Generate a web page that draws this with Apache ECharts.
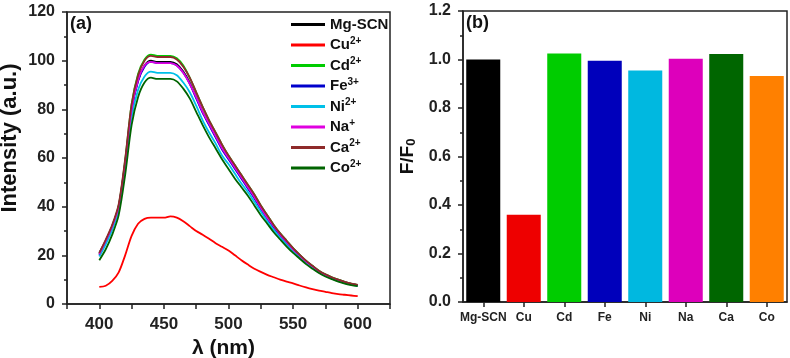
<!DOCTYPE html>
<html lang="en">
<head>
  <meta charset="UTF-8">
  <script type="text/javascript" src="https://cdn.jsdelivr.net/npm/echarts@6/dist/echarts.min.js"></script>
  <title>Fluorescence response</title>
  <style type="text/css">
    * { margin: 0; padding: 0; }
    html, body { width: 100%; height: 100%; background-color: #fff; }
    #chart { width: 790px; height: 358px; }
  </style>
</head>
<body>
<div id="chart"></div>
<script type="text/javascript">
  // wavelengths, 400 - 600 nm every 5 nm
  var wavelengths = [400, 405, 410, 415, 420, 425, 430, 435, 440, 445, 450, 455, 460, 465, 470, 475, 480, 485, 490, 495,
    500, 505, 510, 515, 520, 525, 530, 535, 540, 545, 550, 555, 560, 565, 570, 575, 580, 585, 590, 595, 600]

  var mgScn = [21, 26, 32, 40, 58, 80, 92, 98, 100, 99.5, 99.5, 99.5, 98.5, 95.5, 91, 85, 79, 74, 69, 64,
    60, 56, 52, 48, 44, 39.5, 35.5, 32, 28.5, 25.5, 22.5, 20, 17.5, 15.5, 13.5, 12, 10.8, 9.8, 9, 8.3, 7.8]
  var cu = [7, 7.5, 9.5, 13, 20, 28, 33, 35, 35.5, 35.5, 35.5, 36, 35.5, 34, 32, 30, 28.5, 26.8, 25, 23.5,
    22, 20, 18, 16.2, 14.5, 13.2, 12, 11, 10, 9.2, 8.5, 7.6, 6.8, 6.1, 5.5, 5, 4.5, 4.1, 3.8, 3.5, 3.2]
  var cd = [20.5, 25.5, 32, 40.5, 59, 82, 94.5, 100.5, 102.5, 102, 102, 102, 101, 98, 93, 87, 81, 75.5, 70.5, 65.5,
    61, 57, 53, 49, 45, 40.5, 36.5, 32.5, 29, 26, 23, 20.3, 17.8, 15.7, 13.7, 12.2, 11, 10, 9.1, 8.4, 7.9]
  var fe = [20, 25.5, 31.5, 39.5, 57.5, 79.5, 91.5, 97.5, 99.5, 99, 99, 99, 98, 95, 90.5, 84.5, 78.5, 73.5, 68.5, 63.5,
    59.5, 55.5, 51.5, 47.5, 43.5, 39, 35, 31.5, 28, 25, 22, 19.6, 17.2, 15.2, 13.3, 11.8, 10.6, 9.6, 8.8, 8.1, 7.6]
  var ni = [19.5, 24.5, 30.5, 38.5, 55.5, 76.5, 88, 93.5, 95.5, 95, 95, 95, 94, 91, 87, 81.5, 75.5, 70.5, 66, 61,
    57.5, 53.5, 49.5, 46, 42, 38, 34, 30.5, 27.3, 24.4, 21.6, 19.2, 16.8, 14.9, 13, 11.6, 10.4, 9.4, 8.6, 8, 7.5]
  var na = [20.5, 26, 32, 40, 58, 80, 92, 98, 99.5, 99, 99, 99, 98, 95, 90.5, 85, 79, 74, 69, 64,
    60, 56, 52, 48, 44, 39.5, 35.5, 32, 28.5, 25.5, 22.5, 20, 17.5, 15.5, 13.5, 12, 10.8, 9.8, 9, 8.3, 7.8]
  var ca = [21, 26.5, 32.5, 41, 59.5, 82, 94, 100, 102, 101.5, 101.5, 101.5, 100.5, 97.5, 93, 87, 81, 75.5, 70.5, 65.5,
    61, 57, 53, 49, 45, 40.5, 36.5, 32.5, 29, 26, 23, 20.3, 17.8, 15.7, 13.7, 12.2, 11, 10, 9.1, 8.4, 7.9]
  var co = [18, 22.5, 28.5, 36.5, 53, 73.5, 85, 91, 93, 92.5, 92.5, 92.5, 91.5, 88.5, 84.5, 79, 73.5, 68.5, 64, 59.5,
    55.5, 51.5, 48, 44.5, 40.5, 36.5, 33, 29.5, 26.5, 23.6, 21, 18.7, 16.4, 14.5, 12.7, 11.3, 10.2, 9.2, 8.4, 7.8, 7.3]

  // panel (b)
  var ions = ['Mg-SCN', 'Cu', 'Cd', 'Fe', 'Ni', 'Na', 'Ca', 'Co']
  var ratios = [1.0, 0.36, 1.025, 0.995, 0.955, 1.003, 1.023, 0.932]

  var FONT = '"Liberation Sans", Arial, sans-serif'
  var lineColors = ['#000000', '#ff0000', '#00cc00', '#0000cc', '#00c0e8', '#e000e0', '#8e2a2a', '#006400']
  var barColors = ['#000000', '#ee0000', '#00cc00', '#0000bb', '#00b8e0', '#dd00bb', '#006600', '#ff8000']

  var lineNames = ['Mg-SCN', 'Cu2+', 'Cd2+', 'Fe3+', 'Ni2+', 'Na+', 'Ca2+', 'Co2+']
  var lineData = [mgScn, cu, cd, fe, ni, na, ca, co]

  function pairs(ys) {
    return ys.map(function (y, i) { return [wavelengths[i], y] })
  }

  var series = lineNames.map(function (name, i) {
    return {
      name: name,
      type: 'line',
      xAxisIndex: 0,
      yAxisIndex: 0,
      showSymbol: false,
      smooth: 0.3,
      lineStyle: { color: lineColors[i], width: 1.8 },
      itemStyle: { color: lineColors[i] },
      data: pairs(lineData[i])
    }
  })

  series.push({
    type: 'bar',
    xAxisIndex: 1,
    yAxisIndex: 1,
    barCategoryGap: '16%',
    data: ratios.map(function (v, i) {
      return { value: v, itemStyle: { color: barColors[i] } }
    })
  })

  var axisLine = { show: true, lineStyle: { color: '#222', width: 1.5 } }
  var tickStyle = { color: '#222', width: 1.5 }
  var labelStyle = { color: '#222', fontFamily: FONT, fontWeight: 'bold', fontSize: 16 }

  var myChart = echarts.init(document.getElementById('chart'))
  var option = {
    animation: false,
    textStyle: { fontFamily: FONT },
    grid: [
      { left: 67, top: 12, width: 323, height: 292, show: true, borderColor: '#222', borderWidth: 1.5, outerBoundsMode: 'none', containLabel: false },
      { left: 463, top: 11, width: 324, height: 291, show: true, borderColor: '#222', borderWidth: 1.5, outerBoundsMode: 'none', containLabel: false }
    ],
    legend: {
      left: 291,
      top: 17,
      padding: 0,
      orient: 'vertical',
      itemGap: 4,
      itemWidth: 34,
      itemHeight: 3,
      icon: 'rect',
      data: lineNames,
      textStyle: {
        fontFamily: FONT,
        fontWeight: 'bold',
        fontSize: 15,
        color: '#111',
        rich: {
          b: { fontFamily: FONT, fontWeight: 'bold', fontSize: 15, color: '#111' },
          sup: { fontFamily: FONT, fontWeight: 'bold', fontSize: 10, color: '#111', verticalAlign: 'top', padding: [0, 0, 8, 0] }
        }
      },
      formatter: function (name) {
        var m = name.match(/^([A-Za-z]+)(\d?\+)$/)
        if (!m) return '{b|' + name + '}'
        return '{b|' + m[1] + '}{sup|' + m[2] + '}'
      }
    },
    xAxis: [
      {
        type: 'value',
        gridIndex: 0,
        min: 375,
        max: 625,
        interval: 25,
        name: 'λ (nm)',
        nameLocation: 'middle',
        nameGap: 26,
        nameTextStyle: { fontFamily: FONT, fontWeight: 'bold', fontSize: 21, color: '#111', padding: [0, 10, 0, 0] },
        axisLine: axisLine,
        axisTick: { show: true, length: 5, lineStyle: tickStyle },
        axisLabel: Object.assign({ margin: 12, formatter: function (v) { return v % 50 === 0 ? v : '' } }, labelStyle, { fontSize: 17 }),
        splitLine: { show: false }
      },
      {
        type: 'category',
        gridIndex: 1,
        data: ions,
        axisLine: axisLine,
        axisTick: { show: true, alignWithLabel: true, length: 5, lineStyle: tickStyle },
        axisLabel: { color: '#222', fontFamily: FONT, fontWeight: 'bold', fontSize: 12, margin: 10, interval: 0 }
      }
    ],
    yAxis: [
      {
        type: 'value',
        gridIndex: 0,
        min: 0,
        max: 120,
        interval: 20,
        name: 'Intensity (a.u.)',
        nameLocation: 'middle',
        nameGap: 46,
        nameTextStyle: { fontFamily: FONT, fontWeight: 'bold', fontSize: 22, color: '#111', padding: [0, 0, 0, 40] },
        axisLine: axisLine,
        axisTick: { show: true, length: 5, lineStyle: tickStyle },
        minorTick: { show: true, splitNumber: 2, length: 3, lineStyle: tickStyle },
        axisLabel: Object.assign({ margin: 12 }, labelStyle),
        splitLine: { show: false }
      },
      {
        type: 'value',
        gridIndex: 1,
        min: 0,
        max: 1.2,
        interval: 0.2,
        name: 'F/F{sub|0}',
        nameLocation: 'middle',
        nameGap: 45,
        nameTextStyle: {
          fontFamily: FONT, fontWeight: 'bold', fontSize: 19, color: '#111',
          rich: {
            sub: { fontFamily: FONT, fontWeight: 'bold', fontSize: 13, color: '#111', padding: [8, 0, 0, 0] }
          }
        },
        axisLine: axisLine,
        axisTick: { show: true, length: 5, lineStyle: tickStyle },
        minorTick: { show: true, splitNumber: 2, length: 3, lineStyle: tickStyle },
        axisLabel: Object.assign({ margin: 12, formatter: function (v) { return v.toFixed(1) } }, labelStyle),
        splitLine: { show: false }
      }
    ],
    graphic: [
      { type: 'text', left: 70, top: 15, style: { text: '(a)', font: 'bold 18px ' + FONT, fill: '#111' } },
      { type: 'text', left: 466, top: 14, style: { text: '(b)', font: 'bold 18px ' + FONT, fill: '#111' } }
    ],
    series: series
  }
  myChart.setOption(option)
</script>
</body>
</html>
